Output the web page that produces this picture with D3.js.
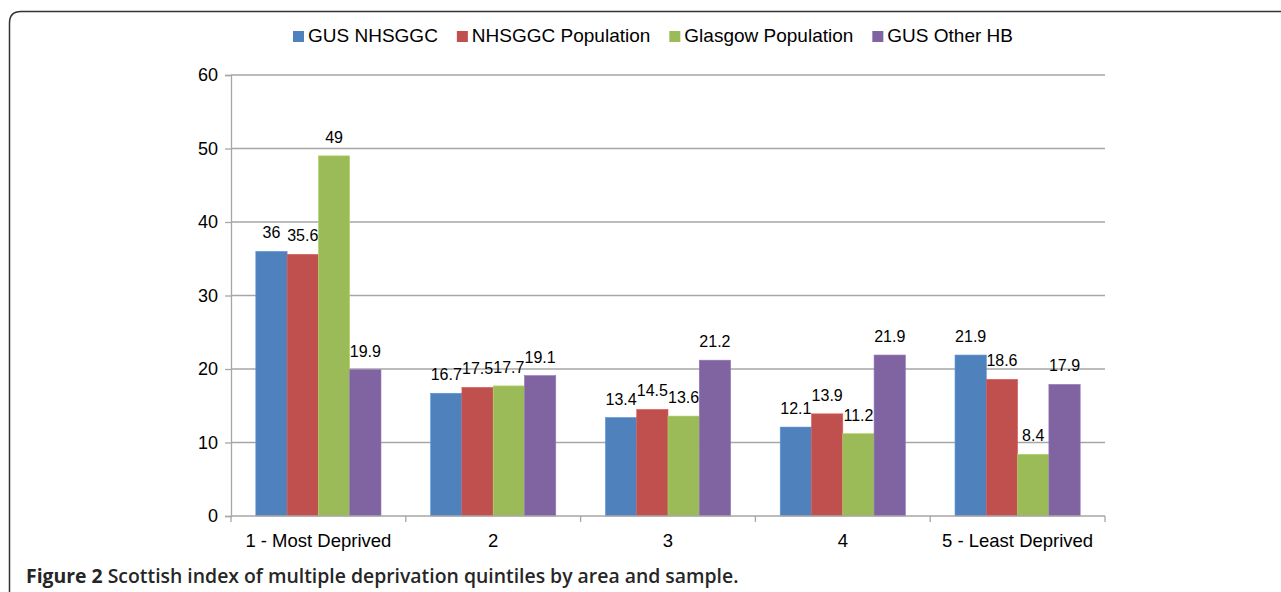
<!DOCTYPE html>
<html lang="en">
<head>
  <meta charset="UTF-8">
  <title>Scottish index of multiple deprivation quintiles</title>
  <script src="https://d3js.org/d3.v7.min.js"></script>
  <style>
    body { background: #fff; margin: 0; }
    svg { display: block; }
    .grid line { stroke: #a6a6a6; stroke-width: 1.3; }
    .lbl { font-family: "Liberation Sans", Arial, sans-serif; fill: #000; }
    .caption { font-family: "Open Sans", sans-serif; fill: #262626; }
  </style>
</head>
<body>
  <svg width="1281" height="592"></svg>

  <script>
const categories = ["1 - Most Deprived", "2", "3", "4", "5 - Least Deprived"];
const seriesNames = ["GUS NHSGGC", "NHSGGC Population", "Glasgow Population", "GUS Other HB"];
const gusNhsggc = [36, 16.7, 13.4, 12.1, 21.9];
const nhsggcPop = [35.6, 17.5, 14.5, 13.9, 18.6];
const glasgowPop = [49, 17.7, 13.6, 11.2, 8.4];
const gusOtherHb = [19.9, 19.1, 21.2, 21.9, 17.9];
const yTicks = [0, 10, 20, 30, 40, 50, 60];
const colors = ["#4F81BD", "#C0504D", "#9BBB59", "#8064A2"];

const allSeries = [gusNhsggc, nhsggcPop, glasgowPop, gusOtherHb];

const svg = d3.select("svg");

// frame, rounded at top-left
svg.append("path")
  .attr("d", "M9.5,600 L9.5,23 Q9.5,11.5 21,11.5 L1290,11.5")
  .attr("fill", "none")
  .attr("stroke", "#333")
  .attr("stroke-width", 1.5);

const plotL = 231, plotR = 1105, plotT = 75, plotB = 516;

const x = d3.scaleBand().domain(categories).range([plotL, plotR])
  .paddingInner(0.284).paddingOuter(0.142);
const xs = d3.scaleBand().domain(d3.range(seriesNames.length)).range([0, x.bandwidth()]);
const y = d3.scaleLinear().domain([0, 60]).range([plotB, plotT]);

// gridlines
svg.append("g").attr("class", "grid")
  .selectAll("line").data(yTicks.filter(d => d > 0)).join("line")
  .attr("x1", plotL).attr("x2", plotR)
  .attr("y1", d => y(d)).attr("y2", d => y(d));

// y axis
const yAxis = svg.append("g")
  .attr("transform", `translate(${plotL},0)`)
  .call(d3.axisLeft(y).tickValues(yTicks).tickSize(6).tickPadding(7));
yAxis.attr("font-family", null).attr("font-size", null);
yAxis.select(".domain").attr("stroke", "#a6a6a6").attr("stroke-width", 1.3);
yAxis.selectAll(".tick line").attr("stroke", "#a6a6a6").attr("stroke-width", 1.3);
yAxis.selectAll(".tick text").attr("class", "lbl").style("font-size", "18px").attr("fill", "#000");

// bars + value labels
const groups = svg.append("g").selectAll("g").data(categories).join("g")
  .attr("transform", d => `translate(${x(d)},0)`);

groups.each(function(cat, ci) {
  const g = d3.select(this);
  allSeries.forEach((vals, si) => {
    const v = vals[ci];
    g.append("rect")
      .attr("x", xs(si))
      .attr("y", y(v))
      .attr("width", xs.bandwidth())
      .attr("height", y(0) - y(v))
      .attr("fill", colors[si])
      .attr("stroke", d3.color(colors[si]).brighter(0.4))
      .attr("stroke-width", 0.6);
    g.append("text")
      .attr("class", "lbl")
      .attr("x", xs(si) + xs.bandwidth() / 2)
      .attr("y", y(v) - 13)
      .attr("text-anchor", "middle")
      .style("font-size", "16px")
      .text(v);
  });
});

// x axis
const xBounds = categories.map(c => x(c) - x.step() * x.paddingInner() / 2);
xBounds.push(plotR);
const xAxis = svg.append("g");
xAxis.append("line")
  .attr("x1", plotL).attr("x2", plotR).attr("y1", plotB).attr("y2", plotB)
  .attr("stroke", "#a6a6a6").attr("stroke-width", 1.3);
xAxis.selectAll("line.tk").data(xBounds).join("line")
  .attr("class", "tk")
  .attr("x1", d => d).attr("x2", d => d)
  .attr("y1", plotB).attr("y2", plotB + 6)
  .attr("stroke", "#a6a6a6").attr("stroke-width", 1.3);
xAxis.selectAll("text").data(categories).join("text")
  .attr("class", "lbl")
  .attr("x", d => x(d) + x.bandwidth() / 2)
  .attr("y", 547)
  .attr("text-anchor", "middle")
  .style("font-size", "18.5px")
  .text(d => d);

// legend
const legend = svg.append("g");
let lx = 0;
seriesNames.forEach((name, i) => {
  const item = legend.append("g").attr("transform", `translate(${lx},0)`);
  item.append("rect").attr("x", 0).attr("y", 31).attr("width", 11).attr("height", 11)
    .attr("fill", colors[i]);
  const t = item.append("text").attr("class", "lbl")
    .attr("x", 15).attr("y", 42).style("font-size", "19px").text(name);
  lx += 15 + t.node().getComputedTextLength() + 19;
});
const legendWidth = lx - 19;
legend.attr("transform", `translate(${653 - legendWidth / 2},0)`);

// caption
const cap = svg.append("text").attr("class", "caption")
  .attr("x", 26).attr("y", 583).style("font-size", "19.4px");
cap.append("tspan").attr("font-weight", 700).text("Figure 2 ");
cap.append("tspan").attr("font-weight", 600).text("Scottish index of multiple deprivation quintiles by area and sample.");
  </script>
</body>
</html>
